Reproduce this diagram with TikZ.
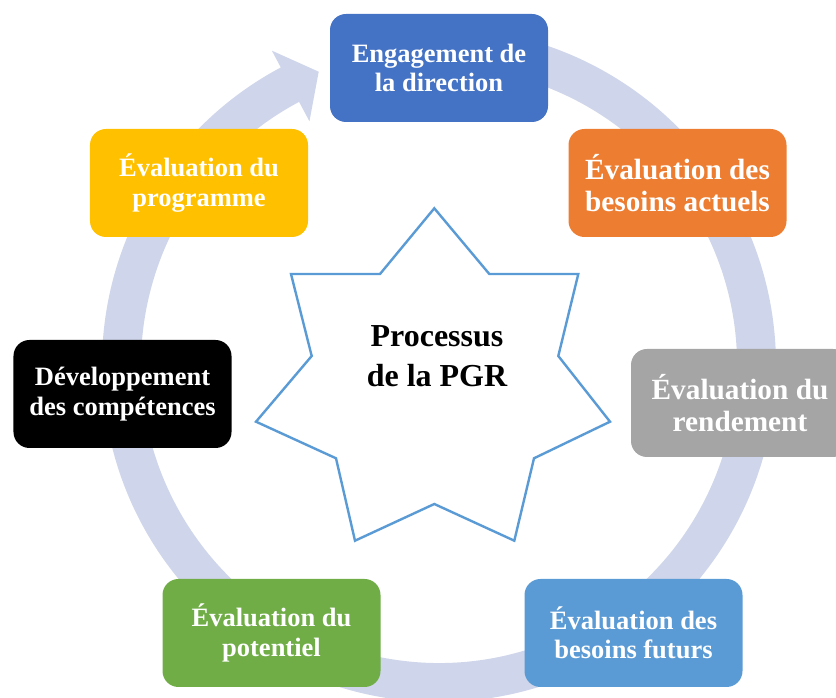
\documentclass[tikz,border=0pt]{standalone}
\usepackage{fontspec}
\setmainfont{Liberation Serif}
\definecolor{ringcol}{HTML}{CFD5EA}
\definecolor{cBlue}{HTML}{4472C4}
\definecolor{cOrange}{HTML}{ED7D31}
\definecolor{cGrey}{HTML}{A5A5A5}
\definecolor{cLightBlue}{HTML}{5B9BD5}
\definecolor{cGreen}{HTML}{70AD47}
\definecolor{cYellow}{HTML}{FFC000}
\definecolor{starline}{HTML}{5B9BD5}
\begin{document}
\begin{tikzpicture}[x=1bp,y=1bp,
  box/.style={rounded corners=16bp, minimum width=218bp, minimum height=108bp,
    inner sep=0pt, align=center, text=white},
  smalltxt/.style={font=\bfseries\fontsize{26.5bp}{29.5bp}\selectfont},
  bigtxt/.style={font=\bfseries\fontsize{29.3bp}{32bp}\selectfont}]
\useasboundingbox (0,0) rectangle (836,698);
\coordinate (C) at (439,333);
% circular block arrow running clockwise behind the boxes
\fill[ringcol] ([shift={(95:337bp)}]C)
  arc[start angle=95, end angle=-242, radius=337bp]
  -- ([shift={(-242:356bp)}]C)
  -- ([shift={(-247.7:317bp)}]C)
  -- ([shift={(-242:276bp)}]C)
  -- ([shift={(-242:298bp)}]C)
  arc[start angle=-242, end angle=95, radius=298bp]
  -- cycle;
% seven-pointed star in the middle
\draw[starline, line width=2.4bp, line join=miter, fill=white]
  (434.3,489.7) -- (489.3,424) -- (578.3,424) -- (558.3,342) -- (610,276.3)
  -- (534,239.7) -- (514.3,157.3) -- (434.3,194) -- (355,157.3) -- (336,239.7)
  -- (256,276.3) -- (311.7,342) -- (291,424) -- (380,424) -- cycle;
\node[align=center, font=\bfseries\fontsize{32bp}{40bp}\selectfont] (centre) at (437,342) {Processus\\de la PGR};
% process steps
\node[box, smalltxt, fill=cBlue] (eng) at (439,630) {Engagement de\\la direction};
\node[box, bigtxt, fill=cOrange] (actuels) at (677.5,515) {Évaluation des\\besoins actuels};
\node[box, bigtxt, fill=cGrey] (rendement) at (740,295) {Évaluation du\\rendement};
\node[box, smalltxt, fill=cLightBlue] (futurs) at (633.5,65) {Évaluation des\\besoins futurs};
\node[box, smalltxt, fill=cGreen] (potentiel) at (271.5,65) {Évaluation du\\potentiel};
\node[box, smalltxt, fill=black] (competences) at (122.5,304) {Développement\\des compétences};
\node[box, smalltxt, fill=cYellow] (programme) at (199,515) {Évaluation du\\programme};
\end{tikzpicture}
\end{document}
